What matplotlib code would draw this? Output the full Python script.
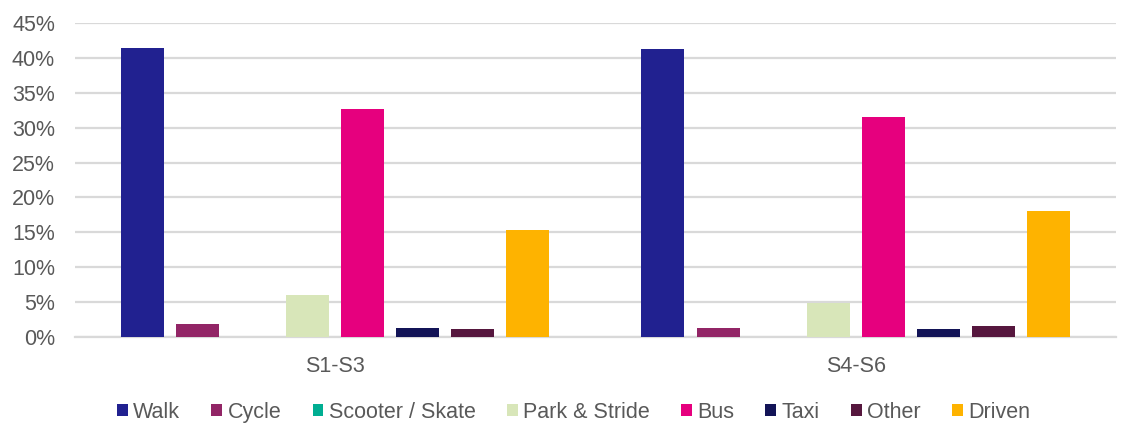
import numpy as np
import matplotlib.pyplot as plt
from matplotlib.ticker import PercentFormatter

plt.rcParams['font.family'] = ['Liberation Sans', 'DejaVu Sans']

groups = ['S1-S3', 'S4-S6']
modes = ['Walk', 'Cycle', 'Scooter / Skate', 'Park & Stride', 'Bus', 'Taxi', 'Other', 'Driven']
colors = ['#212190', '#922566', '#00ae92', '#d8e6b9', '#e6007e', '#131457', '#56173e', '#feb300']

walk = [41.5, 41.3]
cycle = [1.9, 1.3]
scooter = [0.0, 0.0]
park_stride = [6.0, 4.9]
bus = [32.7, 31.5]
taxi = [1.3, 1.15]
other = [1.15, 1.6]
driven = [15.3, 18.0]

series = [walk, cycle, scooter, park_stride, bus, taxi, other, driven]

fig = plt.figure(figsize=(11.29, 4.37), dpi=100)
ax = fig.add_axes([0.066, 0.229, 0.9225, 0.718])

x = np.arange(len(groups))
step = 0.1057
width = 0.0826
for i, (name, vals, c) in enumerate(zip(modes, series, colors)):
    ax.bar(x + (i - 3.5) * step, vals, width, color=c, label=name, zorder=3)

ax.set_xlim(-0.5, 1.5)
ax.set_ylim(0, 45)
ax.set_yticks(np.arange(0, 46, 5))
ax.yaxis.set_major_formatter(PercentFormatter(decimals=0))
ax.set_xticks(x)
ax.set_xticklabels(groups)
ax.grid(axis='y', color='#d9d9d9', linewidth=1.6, zorder=0)
for s in ['top', 'right', 'left']:
    ax.spines[s].set_visible(False)
ax.spines['bottom'].set_color('#d9d9d9')
ax.spines['bottom'].set_linewidth(1.6)
ax.tick_params(axis='both', length=0, labelsize=15.5, colors='#595959')
ax.tick_params(axis='x', pad=14)
ax.tick_params(axis='y', pad=14)

fig.legend(loc='center', bbox_to_anchor=(0.508, 0.057), ncol=8, frameon=False,
           fontsize=15.5, labelcolor='#595959', handlelength=0.5, handleheight=0.5,
           handletextpad=0.25, columnspacing=1.45)

fig.savefig('out.png', dpi=100)
